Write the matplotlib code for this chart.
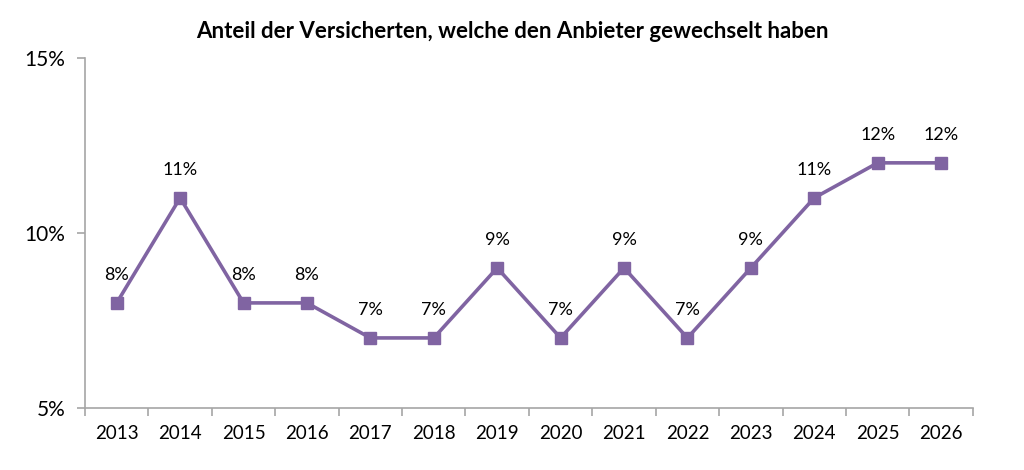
import matplotlib.pyplot as plt
import numpy as np

years = ["2013", "2014", "2015", "2016", "2017", "2018", "2019",
         "2020", "2021", "2022", "2023", "2024", "2025", "2026"]
shares = [8, 11, 8, 8, 7, 7, 9, 7, 9, 7, 9, 11, 12, 12]

plt.rcParams['font.family'] = ['Lato', 'DejaVu Sans']
purple = '#8064A2'
grey = '#A6A6A6'

fig = plt.figure(figsize=(10.24, 4.7), dpi=100)
ax = fig.add_axes([0.083, 0.132, 0.867, 0.745])

x = np.arange(len(years))
ax.plot(x, shares, color=purple, lw=2.6, marker='s', markersize=9)
for xi, v in zip(x, shares):
    ax.annotate(f"{v}%", (xi, v), xytext=(0, 14), textcoords='offset points',
                ha='center', va='bottom', fontsize=13)

ax.set_xlim(-0.5, len(years) - 0.5)
ax.set_ylim(5, 15)
ax.set_yticks([5, 10, 15])
ax.set_yticklabels(["5%", "10%", "15%"], fontsize=15)
ax.set_xticks(x)
ax.set_xticklabels(years, fontsize=13.5)
ax.set_xticks(np.arange(-0.5, len(years)), minor=True)
ax.tick_params(axis='x', which='major', length=0, pad=12)
ax.tick_params(axis='x', which='minor', length=6, color=grey, width=1.2)
ax.tick_params(axis='y', length=6, color=grey, width=1.2, pad=8)

for s in ['top', 'right']:
    ax.spines[s].set_visible(False)
for s in ['left', 'bottom']:
    ax.spines[s].set_color(grey)
    ax.spines[s].set_linewidth(1.2)

fig.suptitle("Anteil der Versicherten, welche den Anbieter gewechselt haben",
             fontsize=16, fontweight='bold', y=0.955)

fig.savefig("out.png", dpi=100)
